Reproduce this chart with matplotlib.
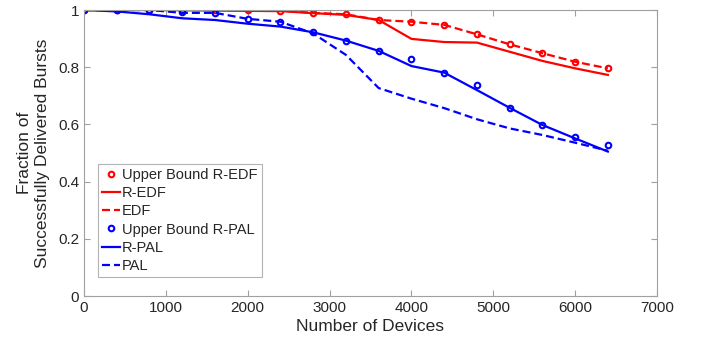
import matplotlib.pyplot as plt
import numpy as np

plt.rcParams['font.family'] = ['Liberation Sans', 'DejaVu Sans']

devices = np.arange(0, 6401, 400)

ub_redf = [1.0, 1.0, 1.0, 1.0, 1.0, 0.999, 0.998, 0.99, 0.985, 0.965,
           0.959, 0.948, 0.915, 0.880, 0.849, 0.819, 0.796]
redf = [1.0, 1.0, 1.0, 0.999, 0.998, 0.997, 0.996, 0.989, 0.983, 0.965,
        0.899, 0.888, 0.886, 0.854, 0.822, 0.796, 0.773]
edf = [1.0, 1.0, 1.0, 1.0, 1.0, 0.999, 0.998, 0.99, 0.985, 0.965,
       0.959, 0.948, 0.915, 0.880, 0.849, 0.819, 0.796]
ub_rpal = [1.0, 1.0, 1.0, 0.992, 0.990, 0.969, 0.959, 0.922, 0.893, 0.857,
           0.827, 0.781, 0.738, 0.658, 0.598, 0.557, 0.529]
rpal = [1.0, 0.995, 0.985, 0.971, 0.965, 0.952, 0.942, 0.922, 0.893, 0.857,
        0.804, 0.781, 0.720, 0.658, 0.598, 0.551, 0.505]
pal = [1.0, 1.0, 1.0, 0.990, 0.990, 0.969, 0.959, 0.918, 0.843, 0.727,
       0.690, 0.657, 0.618, 0.586, 0.563, 0.536, 0.508]

red = '#ff0000'
blue = '#0000ff'
dash = (3.6, 1.8)

fig = plt.figure(figsize=(7.01, 3.47), dpi=100)
ax = fig.add_axes([84/701, 1 - 296/347, 573/701, 286/347])

ax.plot(devices, ub_redf, 'o', color=red, mfc='none', ms=4, mew=1.5, label='Upper Bound R-EDF')
ax.plot(devices, redf, '-', color=red, lw=1.6, label='R-EDF')
ax.plot(devices, edf, '--', color=red, lw=1.6, dashes=dash, label='EDF')
ax.plot(devices, ub_rpal, 'o', color=blue, mfc='none', ms=4, mew=1.5, label='Upper Bound R-PAL')
ax.plot(devices, rpal, '-', color=blue, lw=1.6, label='R-PAL')
ax.plot(devices, pal, '--', color=blue, lw=1.6, dashes=dash, label='PAL')

ax.set_xlim(0, 7000)
ax.set_ylim(0, 1)
ax.set_xticks(np.arange(0, 7001, 1000))
ax.set_yticks([0, 0.2, 0.4, 0.6, 0.8, 1])
ax.set_yticklabels(['0', '0.2', '0.4', '0.6', '0.8', '1'])
ax.tick_params(direction='in', top=True, right=True, labelsize=11,
               labelcolor='#262626', color='#a0a0a0', length=4)
for s in ax.spines.values():
    s.set_color('#a0a0a0')

ax.set_xlabel('Number of Devices', fontsize=12.5, color='#262626', labelpad=3)
ax.set_ylabel('Fraction of\nSuccessfully Delivered Bursts', fontsize=12.5,
              color='#262626', labelpad=6)

leg = ax.legend(loc='lower left', bbox_to_anchor=(0.024, 0.066), fontsize=10.5,
                handlelength=1.25, handletextpad=0.1, borderaxespad=0,
                labelspacing=0.28, fancybox=False, borderpad=0.3)
leg.get_frame().set_edgecolor('#a0a0a0')
leg.get_frame().set_linewidth(0.8)
for t in leg.get_texts():
    t.set_color('#262626')

fig.savefig('out.png', dpi=100)
